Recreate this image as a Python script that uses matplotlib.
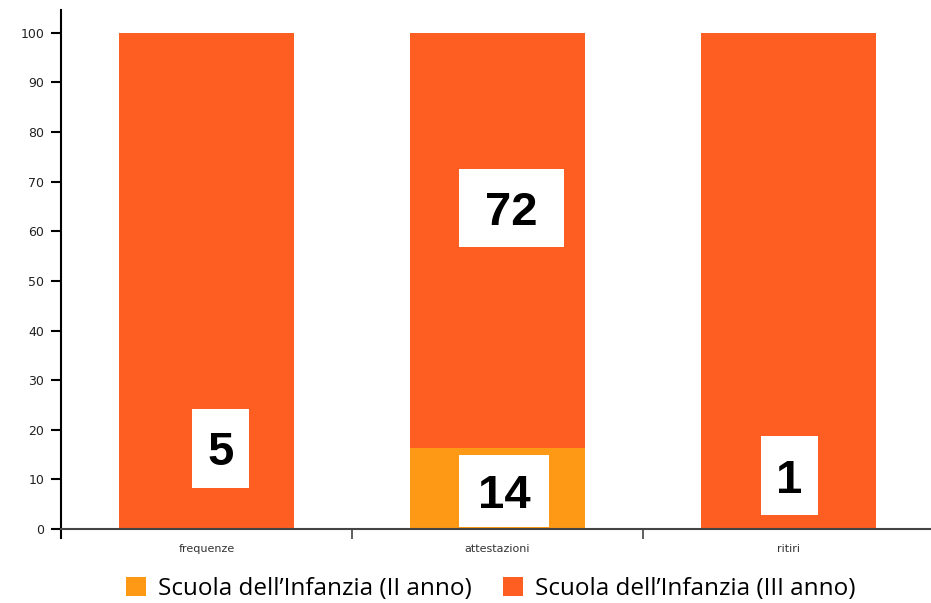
import matplotlib.pyplot as plt
from matplotlib.patches import Rectangle
from matplotlib.transforms import ScaledTranslation
import numpy as np

categories = ['frequenze', 'attestazioni', 'ritiri']
count_ii = [0, 14, 0]
count_iii = [5, 72, 1]
series_names = ['Scuola dell’Infanzia (II anno)', 'Scuola dell’Infanzia (III anno)']
colors = ['#fd9914', '#fe5e22']

# label boxes: (category index, value, x offset, y centre, box w px, box h px)
labels = [
    (0, count_iii[0], 0.048, 16.3, 57, 79),
    (1, count_iii[1], 0.048, 64.7, 105, 78),
    (1, count_ii[1], 0.024, 7.7, 90, 72),
    (2, count_iii[2], 0.003, 10.7, 57, 79),
]

total = np.array(count_ii) + np.array(count_iii)
pct_ii = np.array(count_ii) / total * 100
pct_iii = np.array(count_iii) / total * 100

fig = plt.figure(figsize=(9.31, 6.03), dpi=100)
ax = fig.add_axes([61 / 931, 65 / 603, 873 / 931, 528 / 603])

x = np.arange(len(categories))
ax.bar(x, pct_ii, width=0.6, color=colors[0], label=series_names[0])
ax.bar(x, pct_iii, width=0.6, bottom=pct_ii, color=colors[1], label=series_names[1])

ax.set_xlim(-0.5, 2.5)
ax.set_ylim(-1.8, 104.6)

for spine in ['top', 'right']:
    ax.spines[spine].set_visible(False)
ax.spines['bottom'].set_position(('data', 0))
ax.spines['bottom'].set_color('#444444')
ax.spines['bottom'].set_linewidth(1.5)
ax.spines['left'].set_linewidth(1.5)

ax.set_yticks(range(0, 101, 10))
ax.tick_params(axis='y', length=7, width=1.5, pad=5, labelsize=9, labelcolor='#222222')

ax.set_xticks([-0.5, 0.5, 1.5, 2.5])
ax.set_xticklabels([])
ax.tick_params(axis='x', which='major', length=7, width=1.2, color='#444444')
ax.set_xticks(x, minor=True)
ax.set_xticklabels(categories, minor=True)
ax.tick_params(axis='x', which='minor', length=0, pad=11, labelsize=8, labelcolor='#333333')

for ci, val, dx, yc, w, h in labels:
    tr = fig.dpi_scale_trans + ScaledTranslation(ci + dx, yc, ax.transData)
    ax.add_patch(Rectangle((-w / 200, -h / 200), w / 100, h / 100,
                           transform=tr, facecolor='white', edgecolor='none', zorder=3))
    ttr = ax.transData + ScaledTranslation(0, -0.17, fig.dpi_scale_trans)
    ax.text(ci + dx, yc, str(val), transform=ttr, ha='center', va='baseline',
            fontsize=34, fontweight='bold', family='Liberation Sans', zorder=4)

fig.legend(loc='center', bbox_to_anchor=(491 / 931, 14 / 603), ncol=2, frameon=False,
           handlelength=0.8, handleheight=0.8, handletextpad=0.5, columnspacing=1.3,
           prop={'family': 'Open Sans', 'size': 17.5})

fig.savefig('out.png', dpi=100)
